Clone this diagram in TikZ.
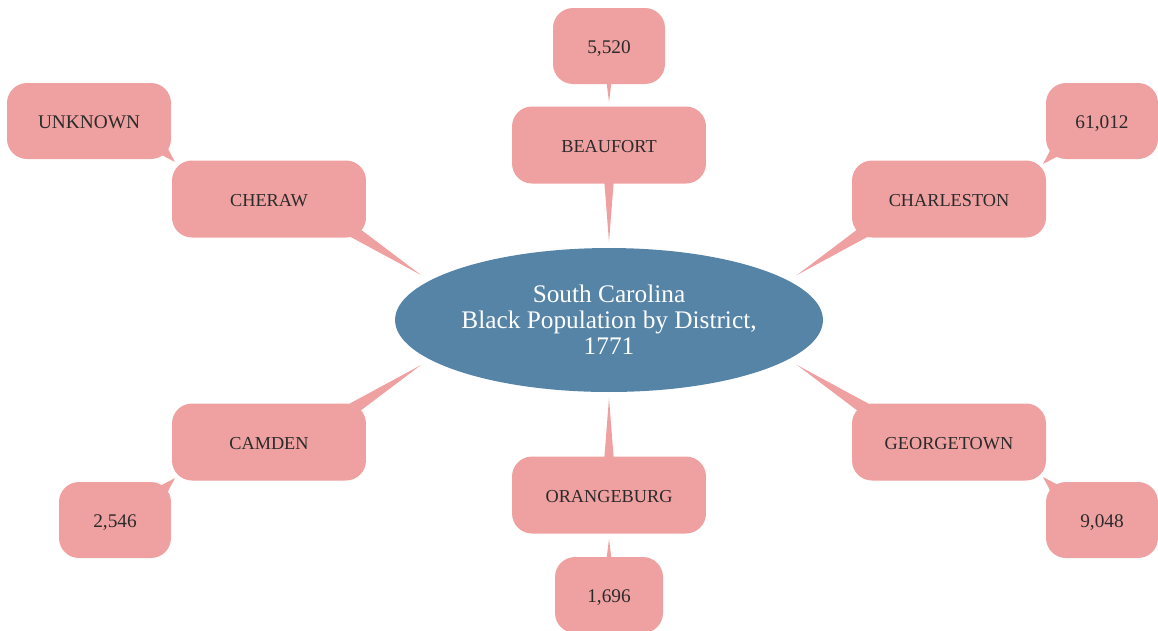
\documentclass[tikz,border=0pt]{standalone}
\usepackage{fontspec}
\setmainfont{Liberation Serif}
\usepackage{tikz}
\usetikzlibrary{shapes.geometric,calc,backgrounds}
\usepackage{xcolor}
\definecolor{boxpink}{HTML}{EFA0A0}
\definecolor{hubblue}{HTML}{5684A6}
\definecolor{inkdark}{HTML}{2B2B2B}

\begin{document}
\begin{tikzpicture}[
    x=0.02cm,y=-0.02cm,
    distbox/.style={fill=boxpink,rounded corners=0.4cm,minimum width=3.88cm,minimum height=1.54cm,align=center,font=\fontsize{10.4}{12}\selectfont,text=inkdark,text height=9pt,text depth=0pt},
    numbox/.style={distbox,minimum width=2.24cm,minimum height=1.52cm,font=\fontsize{11}{13}\selectfont},
    hub/.style={ellipse,fill=hubblue,inner sep=0pt,minimum width=8.56cm,minimum height=2.88cm,align=center,text=white,font=\fontsize{14.4}{14.8}\selectfont},
    pointer/.style={fill=boxpink}
]
\useasboundingbox (0,0) rectangle (1158,630);

% centre
\node[hub] (sc) at (609,320) {South Carolina\\Black Population by District,\\1771};

% districts
\node[distbox] (beaufort) at (609,145) {BEAUFORT};
\node[distbox] (cheraw) at (269,199) {CHERAW};
\node[distbox] (charleston) at (949,199) {CHARLESTON};
\node[distbox] (camden) at (269,442) {CAMDEN};
\node[distbox] (orangeburg) at (609,495) {ORANGEBURG};
\node[distbox] (georgetown) at (949,442) {GEORGETOWN};

% counts
\node[numbox] (n-beaufort) at (609,46) {5,520};
\node[numbox,minimum width=3.28cm] (n-cheraw) at (89,121) {UNKNOWN};
\node[numbox] (n-charleston) at (1102,121) {61,012};
\node[numbox] (n-camden) at (115,520) {2,546};
\node[numbox,minimum width=2.16cm] (n-orangeburg) at (609,595) {1,696};
\node[numbox] (n-georgetown) at (1102,520) {9,048};

% pointer tips and bases
\coordinate (t-beaufort) at (609,242);
\coordinate (t-cheraw) at (421,275);
\coordinate (t-charleston) at (797,275);
\coordinate (t-camden) at (421,365);
\coordinate (t-orangeburg) at (609,398);
\coordinate (t-georgetown) at (797,365);
\coordinate (b-beaufort) at (beaufort);
\coordinate (b-cheraw) at (337,221);
\coordinate (b-charleston) at (881,221);
\coordinate (b-camden) at (337,419);
\coordinate (b-orangeburg) at (orangeburg);
\coordinate (b-georgetown) at (881,419);

\coordinate (tn-beaufort) at (609,102);
\coordinate (tn-cheraw) at (175,162);
\coordinate (tn-charleston) at (1043,164);
\coordinate (tn-camden) at (175,478);
\coordinate (tn-orangeburg) at (609,539);
\coordinate (tn-georgetown) at (1043,477);
\coordinate (bn-beaufort) at (n-beaufort);
\coordinate (bn-cheraw) at (159,146);
\coordinate (bn-charleston) at (1059,148);
\coordinate (bn-camden) at (159,494);
\coordinate (bn-orangeburg) at (n-orangeburg);
\coordinate (bn-georgetown) at (1059,493);

\begin{scope}[on background layer]
\foreach \d in {beaufort,cheraw,charleston,camden,orangeburg,georgetown}{
  \fill[pointer] ($(b-\d)!4.3pt!90:(t-\d)$) -- (t-\d) -- ($(b-\d)!4.3pt!-90:(t-\d)$) -- cycle;
  \fill[pointer] ($(bn-\d)!4pt!90:(tn-\d)$) -- (tn-\d) -- ($(bn-\d)!4pt!-90:(tn-\d)$) -- cycle;
}
\end{scope}
\end{tikzpicture}
\end{document}
